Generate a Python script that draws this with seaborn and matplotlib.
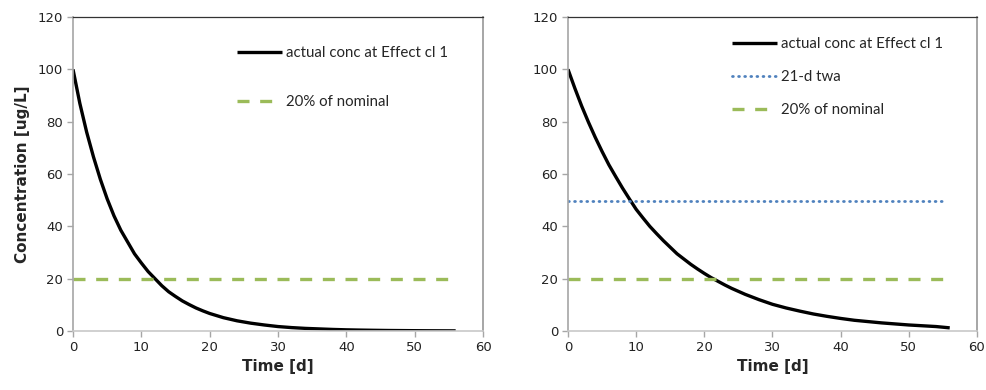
import numpy as np
import pandas as pd
import matplotlib
matplotlib.use("Agg")
import matplotlib.pyplot as plt
import seaborn as sns

# values
days = [0, 1, 2, 3, 4, 5, 6, 7, 8, 9, 10, 11, 12, 13, 14, 15, 16, 17, 18, 19, 20,
        21, 22, 23, 24, 26, 28, 30, 32, 34, 36, 38, 40, 42, 44, 46, 48, 50, 52, 54, 56]
conc_left = [100, 87, 76, 66.5, 58, 50.5, 44, 38.5, 34, 29.5, 26, 22.7, 20, 17.3, 15,
             13.2, 11.5, 10.1, 8.8, 7.7, 6.7, 5.9, 5.1, 4.5, 3.9, 3.0, 2.3,
             1.7, 1.3, 1.0, 0.8, 0.6, 0.45, 0.35, 0.27, 0.2, 0.16, 0.12, 0.09, 0.07, 0.05]
conc_right = [100, 92.8, 86, 79.8, 74, 68.6, 63.5, 59, 54.6, 50.5, 46.5, 43.2, 40, 37.2,
              34.5, 32, 29.5, 27.5, 25.5, 23.7, 22, 20.4, 19, 17.6, 16.3, 14, 12,
              10.2, 8.8, 7.6, 6.5, 5.6, 4.8, 4.1, 3.6, 3.1, 2.7, 2.3, 2.0, 1.7, 1.2]
ref_days = [0, 55]
twa_21d = [49.5, 49.5]
nominal_20 = [20, 20]

label_actual = "actual conc at Effect cl 1"
label_twa = "21-d twa"
label_nominal = "20% of nominal"

BLACK = "#000000"
GREEN = "#9BBB59"
BLUE = "#4F81BD"

sns.set_style("white")
plt.rcParams["font.family"] = ["DejaVu Sans"]

fig = plt.figure(figsize=(9.87, 3.9), dpi=100)
ax1 = fig.add_axes([73 / 987, 1 - 331 / 390, 410 / 987, 314 / 390])
ax2 = fig.add_axes([568 / 987, 1 - 331 / 390, 409 / 987, 314 / 390])

# left panel
sns.lineplot(x=days, y=conc_left, ax=ax1, color=BLACK, lw=2.4, label=label_actual)
sns.lineplot(x=ref_days, y=nominal_20, ax=ax1, color=GREEN, lw=2.4, label=label_nominal)
ax1.lines[-1].set_dashes([3.6, 3.2])

# right panel
sns.lineplot(x=days, y=conc_right, ax=ax2, color=BLACK, lw=2.4, label=label_actual)
sns.lineplot(x=ref_days, y=twa_21d, ax=ax2, color=BLUE, lw=2.0, label=label_twa)
ax2.lines[-1].set_dashes([0.3, 1.9])
ax2.lines[-1].set_dash_capstyle("round")
sns.lineplot(x=ref_days, y=nominal_20, ax=ax2, color=GREEN, lw=2.4, label=label_nominal)
ax2.lines[-1].set_dashes([3.6, 3.2])

for ax in (ax1, ax2):
    for ln in ax.lines:
        ln.set_solid_capstyle("butt")
    ax.set_xlim(0, 60)
    ax.set_ylim(0, 120)
    ax.set_xticks(range(0, 61, 10))
    ax.set_yticks(range(0, 121, 20))
    ax.tick_params(axis="both", which="both", direction="out", length=4, width=1,
                   color="#a6a6a6", labelsize=9.5, pad=3, labelcolor="#222222",
                   left=True, bottom=True)
    ax.spines["left"].set_color("#a6a6a6")
    ax.spines["bottom"].set_color("#c8c8c8")
    ax.spines["top"].set_color("#333333")
    ax.spines["right"].set_color("#a6a6a6")
    ax.spines["left"].set_linewidth(1.2)
    ax.spines["bottom"].set_linewidth(1.2)
    ax.spines["top"].set_linewidth(0.9)
    ax.spines["right"].set_linewidth(1.4)
    ax.set_xlabel("Time [d]", fontsize=11, fontweight="bold", labelpad=4)

ax1.set_ylabel("Concentration [ug/L]", fontsize=11, fontweight="bold", labelpad=6)
ax2.set_ylabel("")

leg1 = ax1.legend(loc="upper left", bbox_to_anchor=(0.40, 0.908), frameon=False,
                  prop={"family": "Lato", "size": 10.8}, handlelength=3.0,
                  handletextpad=0.3, labelspacing=2.33, borderpad=0, borderaxespad=0)
leg2 = ax2.legend(loc="upper left", bbox_to_anchor=(0.40, 0.937), frameon=False,
                  prop={"family": "Lato", "size": 10.8}, handlelength=3.0,
                  handletextpad=0.3, labelspacing=1.27, borderpad=0, borderaxespad=0)

fig.savefig("out.png", dpi=100)
